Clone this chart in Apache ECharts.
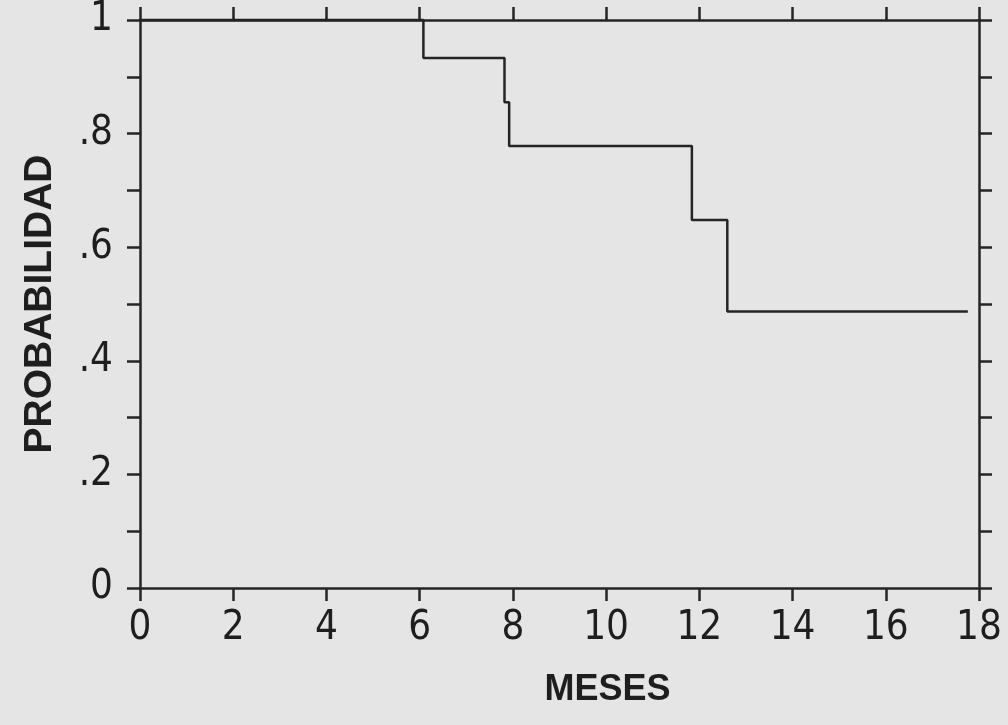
<!DOCTYPE html>
<html>
<head>
<meta charset="utf-8">
<script src="https://cdn.jsdelivr.net/npm/echarts@6/dist/echarts.min.js"></script>
<style>
html,body{margin:0;padding:0;background:#e5e5e5;}
#chart{width:1008px;height:725px;}
</style>
</head>
<body>
<div id="chart"></div>
<script>
// Data (Kaplan-Meier style step curve)
const months = [0, 6.08, 7.82, 7.92, 11.84, 12.6, 17.76];
const survival = [1, 0.933, 0.855, 0.778, 0.648, 0.487, 0.487];
const xTickLabels = ['0','2','4','6','8','10','12','14','16','18'];
const yTickLabels = ['0','.2','.4','.6','.8','1'];
const xTitle = 'MESES';
const yTitle = 'PROBABILIDAD';

const ink = '#242424';
const tickFont = '"Liberation Sans Narrow", "DejaVu Sans Condensed", "Liberation Sans", sans-serif';
const nameFont = '"Liberation Sans", Arial, sans-serif';

const chart = echarts.init(document.getElementById('chart'), null, {renderer: 'canvas'});

function yLabel(v) {
  const k = Math.round(v * 10);
  if (k % 2 !== 0) return '';
  return yTickLabels[k / 2];
}
function xLabel(v) {
  const k = Math.round(v / 2);
  return xTickLabels[k] !== undefined ? xTickLabels[k] : '';
}

const axisLine = {show: true, onZero: false, lineStyle: {color: ink, width: 2.5}};
const axisTick = {show: true, inside: false, length: 13, lineStyle: {color: ink, width: 2.5}};

chart.setOption({
  backgroundColor: '#e5e5e5',
  animation: false,
  grid: {left: 140, right: 29, top: 20, bottom: 137, containLabel: false},
  xAxis: [
    {
      type: 'value', position: 'bottom', min: 0, max: 18, interval: 2,
      axisLine: axisLine, axisTick: axisTick, splitLine: {show: false},
      axisLabel: {show: true, margin: 21, color: '#1e1e1e', fontFamily: tickFont, fontSize: 40, formatter: xLabel},
      name: xTitle, nameLocation: 'middle', nameGap: 84,
      nameTextStyle: {fontFamily: nameFont, fontWeight: 'bold', fontSize: 36, color: '#1e1e1e', padding: [0, 0, 0, 96]}
    },
    {
      type: 'value', position: 'top', min: 0, max: 18, interval: 2,
      axisLine: axisLine, axisTick: axisTick, splitLine: {show: false},
      axisLabel: {show: false}
    }
  ],
  yAxis: [
    {
      type: 'value', position: 'left', min: 0, max: 1, interval: 0.1,
      axisLine: axisLine, axisTick: axisTick, splitLine: {show: false},
      axisLabel: {show: true, margin: 27, color: '#1e1e1e', fontFamily: tickFont, fontSize: 40, padding: [5, 0, 0, 0], formatter: yLabel},
      name: yTitle, nameLocation: 'middle', nameGap: 80, nameRotate: 90,
      nameTextStyle: {fontFamily: nameFont, fontWeight: 'bold', fontSize: 39, color: '#1e1e1e'}
    },
    {
      type: 'value', position: 'right', min: 0, max: 1, interval: 0.1,
      axisLine: axisLine, axisTick: axisTick, splitLine: {show: false},
      axisLabel: {show: false}
    }
  ],
  series: [
    {
      type: 'line',
      xAxisIndex: 0, yAxisIndex: 0,
      step: 'end',
      clip: false,
      showSymbol: false,
      symbol: 'none',
      lineStyle: {color: ink, width: 2.5},
      data: months.map((m, i) => [m, survival[i]])
    }
  ]
});
</script>
</body>
</html>
